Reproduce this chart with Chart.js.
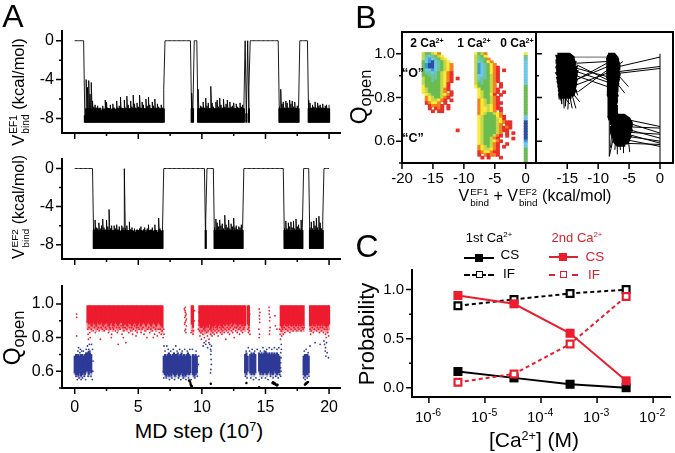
<!DOCTYPE html>
<html>
<head>
<meta charset="utf-8">
<title>Ca binding panels</title>
<script src="https://cdn.jsdelivr.net/npm/chart.js@4"></script>
<style>
html, body { margin: 0; padding: 0; background: #fff; }
body { position: relative; width: 675px; height: 453px; overflow: hidden; font-family: "Liberation Sans", Arial, sans-serif; color: #000; }
canvas { position: absolute; }
.t { position: absolute; white-space: nowrap; transform: translate(-50%, -50%); line-height: 1; z-index: 2; }
.r { transform: translate(-50%, -50%) rotate(-90deg); }
.b { font-weight: bold; }
.red { color: #d9232e; }
sup.s { font-size: .6em; vertical-align: .55em; line-height: 0; }
sub.s { font-size: .72em; vertical-align: -.25em; line-height: 0; }
.v { display: inline-block; }
.ss { display: inline-block; vertical-align: middle; font-size: .62em; line-height: 1.15; text-align: left; margin-left: 1px; }
.ss span { display: block; }
.key { position: absolute; height: 0; }
.sq { position: absolute; box-sizing: border-box; }
</style>
</head>
<body>
<div class="t" style="left:13px;top:16px;font-size:32px">A</div>
<div class="t" style="left:366px;top:17px;font-size:32px">B</div>
<div class="t" style="left:367px;top:246px;font-size:32px">C</div>

<div class="t r" style="left:20px;top:92px;font-size:16.5px"><span class="v">V<span class="ss"><span>EF1</span><span>bind</span></span></span> (kcal/mol)</div>
<div class="t r" style="left:20px;top:207px;font-size:16px"><span class="v">V<span class="ss"><span>EF2</span><span>bind</span></span></span> (kcal/mol)</div>
<div class="t r" style="left:12px;top:338px;font-size:23px">Q<sub class="s">open</sub></div>
<div class="t" style="left:199px;top:430px;font-size:21px">MD step (10<sup class="s">7</sup>)</div>

<div class="t r" style="left:359px;top:97px;font-size:23px">Q<sub class="s">open</sub></div>
<div class="t" style="left:535px;top:197px;font-size:16px"><span class="v">V<span class="ss"><span>EF1</span><span>bind</span></span></span> + <span class="v">V<span class="ss"><span>EF2</span><span>bind</span></span></span> (kcal/mol)</div>

<div class="t r" style="left:367px;top:334px;font-size:22px">Probability</div>
<div class="t" style="left:534px;top:439px;font-size:21px">[Ca<sup class="s">2+</sup>] (M)</div>

<div class="t" style="left:489px;top:237px;font-size:13px">1st Ca<sup class="s">2+</sup></div>
<div class="t red" style="left:577px;top:237px;font-size:13px">2nd Ca<sup class="s">2+</sup></div>
<div class="t" style="left:510px;top:255px;font-size:13.5px">CS</div>
<div class="t" style="left:509px;top:274px;font-size:13.5px">IF</div>
<div class="t red" style="left:595px;top:257px;font-size:13.5px">CS</div>
<div class="t red" style="left:594px;top:275px;font-size:13.5px">IF</div>
<div class="key" style="left:464px;top:257px;width:30px;border-top:2px solid #000"></div>
<div class="sq" style="left:475px;top:254px;width:8px;height:8px;background:#000"></div>
<div class="key" style="left:464px;top:274px;width:30px;border-top:2px dashed #000"></div>
<div class="sq" style="left:476px;top:271px;width:7px;height:7px;background:#fff;border:1.5px solid #000"></div>
<div class="key" style="left:549px;top:256px;width:29px;border-top:2px solid #d9232e"></div>
<div class="sq" style="left:559px;top:253px;width:8px;height:8px;background:#ed1c2e"></div>
<div class="key" style="left:549px;top:274px;width:29px;border-top:2px dashed #d9232e"></div>
<div class="sq" style="left:560px;top:271px;width:7px;height:7px;background:#fff;border:1.5px solid #d9232e"></div>

<div class="t b" style="left:427px;top:43px;font-size:12px">2 Ca<sup class="s">2+</sup></div>
<div class="t b" style="left:474px;top:43px;font-size:12px">1 Ca<sup class="s">2+</sup></div>
<div class="t b" style="left:517px;top:43px;font-size:12px">0 Ca<sup class="s">2+</sup></div>
<div class="t b" style="left:413px;top:73px;font-size:12.5px">“O”</div>
<div class="t b" style="left:413px;top:138px;font-size:12.5px">“C”</div>

<script>
// Panel A, traces: top of the noise per step of 0.1 (x 10^7), 0 = unbound
const ef1Tops = [
    0,0,0,0,0,0,0,0,-7.7,-4.0,
    -4.8,-4.1,-5.5,-4.3,-6.2,-6.8,-6.6,-6.9,-6.7,-7.0,
    -6.9,-7.2,-6.7,-7.1,-6.1,-6.3,-6.9,-7.0,-6.6,-7.1,
    -6.5,-6.9,-7.1,-6.2,-6.9,-6.7,-5.8,-6.9,-7.0,-6.1,
    -6.9,-5.7,-6.6,-7.0,-6.2,-6.8,-5.6,-6.5,-6.9,-6.4,
    -6.8,-5.6,-6.9,-6.3,-6.6,-7.0,-6.0,-6.7,-5.8,-6.6,
    -7.0,-6.3,-6.7,-6.0,-6.9,-6.5,-6.8,-7.0,-6.6,-6.9,
    -5.0,0,0,0,0,0,0,0,0,0,
    0,0,0,0,0,0,0,0,0,0,
    0,0,-5.4,-6.6,0,0,0,-5.0,-7.0,-6.7,
    -6.8,-6.3,-6.9,-5.9,-6.7,-6.4,-7.0,-4.7,-6.4,-6.8,
    -7.0,-6.3,-6.1,-6.8,-5.9,-6.6,-6.9,-6.0,-6.8,-6.5,
    -6.1,-6.9,-6.3,-6.8,-6.7,-6.4,-7.0,-6.5,-6.8,-6.9,
    -6.4,-6.8,-6.6,-7.0,0,-7.5,0,-4.8,0,0,
    0,0,0,0,0,0,0,0,0,0,
    0,0,0,0,0,0,0,0,0,0,
    0,-6.8,-5.0,-6.5,-6.3,-6.9,-6.2,-6.4,-6.9,-6.1,
    -6.5,-6.2,-6.8,-6.3,-6.9,-6.7,-7.0,0,0,0,
    0,0,0,0,-6.1,-6.4,-6.9,-6.6,-6.8,-6.3,
    -6.9,-6.4,-6.7,-6.6,-6.9,-6.5,-6.9,-6.7,-6.6,-7.0,
    -6.6
];
const ef2Tops = [
    0,0,0,0,0,0,0,0,0,0,
    0,0,0,0,0,-6.3,-5.4,-6.2,-6.3,-5.7,
    -6.3,-6.0,-5.3,-6.2,-6.4,-5.4,-6.1,-4.3,-6.3,-6.0,
    -6.5,-6.0,-6.3,-5.9,-6.4,-6.1,-6.6,-6.0,-6.2,-0.01,
    -6.3,-6.0,-6.5,-5.6,-6.4,-6.2,-6.6,-6.3,-6.7,-6.4,
    -6.5,-6.3,-6.1,-6.6,-6.4,-6.2,-6.7,-6.3,-5.9,-6.5,
    -6.4,-6.2,-6.6,-5.9,-6.5,-6.7,-5.2,-6.3,-6.6,-6.5,
    0,0,0,0,0,0,0,0,0,0,
    0,0,0,0,0,0,0,0,0,0,
    0,0,0,0,0,0,0,0,0,0,
    0,0,0,-5.5,0,0,0,0,0,0,
    -6.2,-5.3,-5.7,-6.1,-5.4,-6.0,-5.8,-6.3,-4.9,-5.9,
    -6.2,-5.4,-6.3,-5.8,-6.1,-5.2,-6.2,-6.0,-6.4,-6.1,
    -6.2,-5.9,-6.3,0,0,0,0,0,0,0,
    0,0,0,0,0,0,0,0,0,0,
    0,0,0,0,0,0,0,0,0,0,
    0,0,0,0,0,-6.3,-5.5,-6.3,-5.7,-6.1,
    -5.6,-6.2,-5.5,-6.3,-5.3,-6.1,-5.9,-6.3,-5.4,-6.2,
    0,0,0,0,0,-6.2,-5.6,-6.3,-5.5,-6.0,
    -5.2,-6.2,-5.0,-5.7,-6.3,-5.5,0,0,0,0,
    0
];
const traceFloor = -8.4;
const ef1Core = -7.0;
const ef2Core = -6.5;
const stepX = 0.1;

// Panel A, Qopen: lower and upper edge of the dense bands per step of 0.1
const n = null;
const redLow = [
    n,n,n,n,n,n,n,n,n,n,
    .89,.88,.89,.87,.88,.89,.88,.87,.89,.88,
    .88,.89,.87,.88,.88,.89,.88,.87,.88,.89,
    .87,.88,.89,.88,.87,.88,.89,.89,.87,.88,
    .88,.87,.89,.88,.88,.87,.88,.89,.88,.87,
    .88,.89,.87,.88,.89,.88,.87,.88,.89,.88,
    .87,.88,.89,.88,.87,.88,.89,.88,.87,.86,
    n,n,n,n,n,n,n,n,n,n,
    n,n,n,n,n,n,n,n,n,n,
    n,n,.88,.86,n,n,n,n,.87,.86,
    .86,.87,.85,.86,.87,.86,.88,.85,.87,.86,
    .87,.88,.86,.87,.88,.87,.86,.88,.87,.88,
    .88,.87,.88,.89,.87,.88,.89,.88,.87,.88,
    .88,.88,.87,.88,.87,n,.88,.87,n,n,
    n,n,n,n,n,n,n,n,n,n,
    n,n,n,n,n,n,n,n,n,n,
    n,n,.87,.86,.87,.88,.87,.88,.87,.88,
    .87,.88,.87,.88,.87,.88,.87,.88,.87,.88,
    .87,n,n,n,n,.87,.87,.88,.87,.88,
    .88,.87,.88,.87,.88,.87,.88,.87,.86,.87,
    .88
];
const redHigh = .99;
const blueLow = [
    .59,.58,.58,.57,.59,.57,.58,.59,.58,.60,
    .60,.58,.60,.59,n,n,n,n,n,n,
    n,n,n,n,n,n,n,n,n,n,
    n,n,n,n,n,n,n,n,n,n,
    n,n,n,n,n,n,n,n,n,n,
    n,n,n,n,n,n,n,n,n,n,
    n,n,n,n,n,n,n,n,n,n,
    .59,.58,.57,.58,.57,.58,.57,.59,.58,.57,
    .58,.59,.57,.58,.59,.57,.58,.57,.58,.59,
    .58,.59,n,.58,.57,.58,.59,n,n,n,
    n,n,n,n,n,n,n,n,n,n,
    n,n,n,n,n,n,n,n,n,n,
    n,n,n,n,n,n,n,n,n,n,
    n,n,n,n,.59,.58,.60,n,.59,.58,
    .59,.58,.59,n,n,.60,.58,.59,.58,.59,
    .59,.58,.59,.60,.58,.59,.58,.60,.59,.58,
    .59,.59,n,n,n,n,n,n,n,n,
    n,n,n,n,n,n,n,n,n,n,
    .58,.57,.58,.58,.59,n,n,n,n,n,
    n,n,n,n,n,n,n,n,n,n,
    n
];
const blueHigh = [
    .69,.70,.70,.70,.69,.70,.70,.69,.70,.71,
    .71,.72,.71,.70,n,n,n,n,n,n,
    n,n,n,n,n,n,n,n,n,n,
    n,n,n,n,n,n,n,n,n,n,
    n,n,n,n,n,n,n,n,n,n,
    n,n,n,n,n,n,n,n,n,n,
    n,n,n,n,n,n,n,n,n,n,
    .69,.70,.69,.70,.71,.70,.69,.70,.71,.70,
    .70,.71,.69,.70,.71,.69,.70,.69,.70,.71,
    .70,.69,n,.70,.69,.70,.69,n,n,n,
    n,n,n,n,n,n,n,n,n,n,
    n,n,n,n,n,n,n,n,n,n,
    n,n,n,n,n,n,n,n,n,n,
    n,n,n,n,.70,.71,.69,n,.70,.71,
    .70,.71,.70,n,n,.71,.70,.71,.70,.71,
    .72,.71,.70,.71,.70,.71,.70,.71,.70,.71,
    .70,.69,n,n,n,n,n,n,n,n,
    n,n,n,n,n,n,n,n,n,n,
    .69,.70,.70,.70,.69,n,n,n,n,n,
    n,n,n,n,n,n,n,n,n,n,
    n
];
const redStray = [
    [.15,.94],[.15,.92],[.15,.81],[1.02,.85],[1.05,.82],[1.08,.79],[1.12,.86],[1.18,.83],[1.22,.8],[1.3,.85],[1.38,.87],[1.45,.84],
    [1.55,.86],[1.62,.83],[1.7,.87],[1.78,.85],[1.85,.86],[1.92,.84],[2.02,.79],[2.08,.86],[2.15,.85],[2.25,.87],[2.33,.84],[2.42,.86],
    [2.5,.85],[2.58,.87],[2.66,.83],[2.75,.86],[2.82,.85],[2.9,.82],[2.98,.86],[3.05,.85],[3.12,.87],[3.2,.84],[3.28,.86],[3.35,.83],
    [3.42,.76],[3.5,.86],[3.58,.85],[3.65,.87],[3.72,.82],[3.8,.86],[3.88,.84],[3.95,.86],[4.02,.77],[4.1,.85],[4.18,.87],[4.25,.83],
    [4.32,.86],[4.4,.84],[4.48,.86],[4.55,.82],[4.62,.85],[4.7,.87],[4.78,.84],[4.85,.86],[4.92,.83],[5.0,.86],[5.08,.85],[5.15,.87],
    [5.22,.83],[5.3,.85],[5.38,.86],[5.45,.82],[5.52,.84],[5.6,.87],[5.68,.8],[5.75,.85],[5.82,.86],[5.9,.83],[5.98,.85],[6.05,.87],
    [6.12,.84],[6.2,.86],[6.28,.82],[6.35,.85],[6.42,.87],[6.5,.81],[6.58,.85],[6.65,.83],[6.72,.85],[6.8,.82],[6.88,.84],[6.95,.8],
    [7.0,.85],[7.02,.82],[4.82,.81],[3.82,.8],[2.88,.8],[6.18,.8],
    [8.62,.97],[8.65,.92],[8.68,.89],[8.7,.95],[8.72,.85],[8.74,.9],[8.76,.94],[8.78,.87],[8.66,.84],[8.72,.93],[8.7,.98],[8.64,.88],
    [8.75,.83],[8.68,.96],[8.78,.91],[9.15,.83],[9.22,.84],[9.3,.82],[9.36,.84],[9.42,.96],[9.4,.9],[9.72,.85],[9.75,.9],[9.78,.95],
    [9.82,.84],[9.85,.81],[9.9,.83],[9.96,.79],[10.02,.84],[10.08,.82],[10.14,.85],[10.2,.8],[10.26,.84],[10.32,.78],[10.38,.83],[10.44,.81],
    [10.5,.84],[10.56,.79],[10.62,.85],[10.68,.82],[10.74,.84],[10.8,.81],[10.86,.83],[10.92,.85],[10.98,.82],[11.04,.84],[11.1,.86],[11.16,.83],
    [11.22,.85],[11.28,.81],[11.34,.84],[11.4,.86],[11.46,.83],[11.52,.85],[11.58,.82],[11.64,.84],[11.7,.86],[11.76,.83],[11.82,.85],[11.88,.79],
    [11.94,.84],[12.0,.86],[12.06,.83],[12.12,.85],[12.18,.82],[12.24,.86],[12.3,.84],[12.36,.87],[12.42,.83],[12.48,.85],[12.54,.8],[12.6,.86],
    [12.66,.84],[12.72,.86],[12.78,.83],[12.84,.87],[12.9,.85],[12.96,.82],[13.02,.86],[13.08,.84],[13.14,.87],[13.2,.83],[13.26,.85],[13.32,.86],
    [13.62,.85],[13.66,.83],[13.7,.86],[13.74,.84],[13.72,.9],[13.76,.94],[13.66,.97],[13.78,.82],
    [14.5,.97],[14.52,.93],[14.55,.89],[14.48,.85],[14.53,.82],[14.56,.95],[14.5,.8],[14.54,.91],
    [15.28,.98],[15.3,.94],[15.33,.9],[15.36,.86],[15.32,.82],[15.3,.96],[15.35,.92],[15.33,.84],[15.75,.93],[15.78,.87],[15.9,.85],
    [16.12,.85],[16.15,.82],[16.18,.79],[16.22,.84],[16.28,.81],[16.34,.85],[16.4,.82],[16.46,.86],[16.52,.83],[16.6,.85],[16.68,.87],[16.76,.84],
    [16.84,.86],[16.92,.83],[17.0,.85],[17.08,.87],[17.16,.84],[17.24,.86],[17.32,.85],[17.4,.87],[17.48,.84],[17.56,.86],[17.64,.85],[17.72,.87],
    [17.8,.84],[17.88,.86],[17.96,.85],[18.04,.86],[18.5,.85],[18.55,.82],[18.6,.84],[18.68,.86],[18.76,.83],[18.84,.85],[18.92,.87],[19.0,.84],
    [19.08,.86],[19.16,.85],[19.24,.83],[19.32,.86],[19.4,.84],[19.48,.86],[19.56,.83],[19.64,.85],[19.72,.82],[19.78,.8],[19.84,.85],[19.9,.83],[19.96,.81]
];
const blueStray = [
    [.1,.57],[.2,.55],[.25,.72],[.3,.74],[.35,.56],[.4,.71],[.45,.73],[.5,.55],[.55,.72],[.62,.56],[.68,.72],[.75,.57],[.85,.55],[.9,.73],
    [1.0,.75],[1.05,.57],[1.1,.73],[1.15,.76],[1.2,.72],[1.28,.57],[1.32,.76],[1.38,.55],[1.4,.73],[1.42,.6],[1.44,.66],[.95,.63],
    [6.98,.6],[7.0,.56],[7.02,.75],[7.1,.72],[7.2,.56],[7.25,.75],[7.35,.73],[7.45,.55],[7.55,.72],[7.65,.56],[7.75,.73],[7.85,.55],[7.95,.75],
    [8.05,.72],[8.15,.56],[8.25,.73],[8.35,.55],[8.45,.72],[8.55,.56],[8.65,.73],[8.75,.55],[8.85,.72],[8.95,.56],[9.05,.73],[9.15,.55],[9.25,.73],
    [9.28,.62],[9.3,.68],[9.45,.56],[9.55,.72],[9.65,.57],[9.72,.64],[9.75,.69],
    [10.1,.75],[10.18,.77],[10.3,.76],[10.45,.74],[10.55,.77],[10.62,.76],[10.68,.73],[10.7,.7],[10.72,.67],[10.74,.64],[10.7,.61],[10.68,.59],[10.72,.72],[10.75,.75],
    [13.42,.57],[13.48,.72],[13.55,.56],[13.65,.74],[13.75,.72],[13.85,.56],[13.95,.73],[14.05,.55],[14.15,.72],[14.25,.56],[14.35,.73],[14.5,.55],[14.6,.72],
    [14.7,.56],[14.8,.74],[14.9,.72],[15.0,.56],[15.1,.73],[15.2,.55],[15.3,.74],[15.4,.57],[15.5,.73],[15.6,.56],[15.7,.74],[15.8,.57],[15.9,.73],[16.0,.56],
    [16.05,.74],[16.12,.58],[16.2,.62],[16.2,.65],[16.22,.68],[16.2,.71],[16.25,.73],[16.22,.6],[16.24,.76],[16.2,.57],
    [18.0,.56],[18.05,.72],[18.12,.55],[18.2,.73],[18.28,.56],[18.35,.71],[18.42,.57],
    [19.6,.78],[19.65,.76],[19.7,.72],[19.75,.69],[19.72,.74],[19.8,.77],[19.95,.68],[19.85,.71],[18.9,.77],[19.3,.76],[18.5,.75]
];
const blackStray = [
    [9.0,.545],[9.05,.54],[9.1,.53],[9.12,.52],[9.16,.515],[9.2,.51],[10.7,.525],[13.5,.53],[14.5,.505],
    [15.55,.53],[15.6,.535],[15.65,.525],[15.7,.53],[15.75,.525],[15.8,.52],[15.85,.52],[15.9,.515],[15.95,.52],
    [18.1,.52],[18.15,.525],[18.2,.525],[18.25,.53],[18.3,.535],[18.35,.535]
];

// Panel B, histogram: one string per row (y from 1.0 down by 0.0125), one digit per 0.5 kcal/mol from -17
const heatRows = [
    ".455432...........3542",
    ".4676543..........4653",
    ".47876543.........46652",
    ".578976543........476532",
    ".5899765432.......4876532",
    ".5899765432.......48765321",
    ".5778765432.......48765321.1",
    ".5667654321.......48765321",
    ".5566654321.......47765421",
    ".4556654321.1.....47665421",
    ".4556554321.......46655421",
    ".455555431........4565542.1",
    ".355555431........3555542.1",
    ".345555421.........3555421",
    ".34555542.1........3455421.1",
    "..345554321........345531.1",
    "..23455421.........3455421",
    "..2344321.1........2345421",
    "..12332.1..........23454211",
    "...12221.1.........2344321",
    "...1.121.1.........23343211",
    "....1.11...........233432.1",
    "...................23455432",
    "...................345555321",
    "...................345555431",
    "...................34555543211",
    "...................34555542.11",
    "...................34555542121",
    "............1......3455554211",
    "...................34555542.1.1",
    "...................34555421.1",
    "...................3455421....1",
    "...................34554321",
    "...................3455421..1",
    "...................2345421.1",
    "...................2344321",
    "...................1233211",
    "...................1.21221",
    "....................1.1...1",
    "",
    ""
];
const freeColumn = "36677777777755555555555779999999877555555";
const freeColumnX = 0;
const heatStartX = -17;
const heatStepX = 0.5;
const heatStepY = 0.0125;
const heatColors = ['', '#e8302a', '#f58020', '#ffe838', '#c4d84a', '#6cbc4f', '#6cc4a0', '#6cc8e4', '#3a9cd8', '#2c4fa0'];

// Panel B, trajectories
const trajCloudA = [
    [-16.6,1],[-14.6,1],[-14.2,.99],[-16.7,.99],[-16.6,.98],[-14,.98],[-13.9,.97],[-16.7,.97],[-16.7,.96],[-13.7,.96],
    [-13.8,.95],[-16.6,.95],[-16.7,.94],[-13.5,.94],[-13.6,.93],[-16.6,.93],[-16.6,.92],[-13.4,.92],[-13.5,.91],[-16.7,.91],
    [-16.5,.9],[-13.5,.9],[-13.6,.89],[-16.6,.89],[-16.5,.88],[-13.5,.88],[-13.6,.87],[-16.5,.87],[-16.4,.86],[-13.6,.86],
    [-13.7,.85],[-16.4,.85],[-16.3,.84],[-13.8,.84],[-13.6,.83],[-16.3,.83],[-16.2,.82],[-13.9,.82],[-14,.81],[-16.2,.81],[-16.1,.8],[-14.3,.8]
];
const trajCloudB = [
    [-8.4,1],[-7.4,1],[-7.1,.99],[-8.4,.99],[-8.5,.98],[-6.9,.98],[-6.8,.97],[-8.5,.97],[-8.5,.96],[-6.7,.96],[-6.6,.95],[-8.5,.95],
    [-8.5,.94],[-6.6,.94],[-6.6,.93],[-8.5,.93],[-8.5,.92],[-6.7,.92],[-6.6,.91],[-8.5,.91],[-8.5,.9],[-6.6,.9],[-6.7,.89],[-8.5,.89],
    [-8.4,.88],[-6.7,.88],[-6.8,.87],[-8.4,.87],[-8.4,.86],[-6.8,.86],[-6.9,.85],[-8.4,.85],[-8.4,.84],[-6.9,.84],[-6.9,.83],[-8.4,.83],
    [-8.4,.82],[-7,.82],[-6.9,.81],[-8.4,.81],[-8.3,.8],[-7,.8],[-7,.79],[-8.3,.79],[-8.3,.78],[-7,.78],[-7.1,.77],[-8.3,.77],
    [-8.3,.76],[-7,.76],[-7,.75],[-8.3,.75],[-8.3,.74],[-7,.74],[-7,.73],[-8.3,.73],[-8.3,.72],[-7,.72],[-7.2,.71],[-8.3,.71],[-8.2,.7],[-7.4,.7]
];
const trajCloudC = [
    [-7.3,.72],[-5.8,.72],[-5.3,.71],[-7.6,.71],[-7.8,.7],[-4.9,.7],[-4.7,.69],[-7.9,.69],[-7.9,.68],[-4.6,.68],[-4.6,.67],[-7.8,.67],
    [-7.9,.66],[-4.7,.66],[-4.6,.65],[-7.8,.65],[-7.7,.64],[-4.8,.64],[-4.9,.63],[-7.7,.63],[-7.6,.62],[-4.8,.62],[-5,.61],[-7.5,.61],
    [-7.4,.6],[-5.1,.6],[-5.3,.59],[-7.2,.59],[-6.9,.58],[-5.6,.58]
];
const trajLinks = [
    [-16.4,.82,-16.3,.79],[-16,.8,-15.9,.77],[-15.6,.8,-15.5,.75],[-15.2,.8,-15.3,.76],[-14.8,.8,-14.9,.745],[-14.6,.81,-14.2,.75],
    [-14.3,.82,-13.6,.75],[-14.4,.83,-13,.78],[-14,.86,-13.3,.81],[-15.4,.8,-14.6,.77],
    [-13.5,.957,-8.36,.965],[-13.5,.95,-8.5,.881],[-13.5,.934,-8.6,.896],[-13.5,.881,-8.6,.957],[-13.5,.858,-8.6,.911],[-13.2,.827,-8.5,.926],
    [-13.6,.92,-8.4,.87],[-13.6,.9,-8.5,.85],[-13.7,.88,-8.6,.94],
    [-6.6,.942,0,.985],[-6.6,.919,0,.942],[-6.6,.911,0,.933],[-6.7,.9,-5.1,.85],[-6.8,.86,-5.7,.82],[-6.7,.95,-6,.965],
    [-5,.697,0,.667],[-4.8,.68,0,.637],[-4.6,.665,0,.66],[-4.7,.65,0,.614],[-4.8,.64,0,.632],[-5,.63,0,.591],[-4.8,.62,0,.6],[-5.2,.605,0,.576],[-5.5,.59,0,.585],
    [-8.2,.53,-7.5,.62],[-8.2,.53,-8.2,.7],[-8,.57,-7.8,.64],[-6.9,.54,-6.9,.6],[-5.9,.545,-5.9,.6],[-4.9,.55,-5.1,.6],[-7.3,.56,-7.2,.6],[-6.4,.56,-6.5,.6]
];
const trajHold = [[-13.9,.985],[-8.2,.985]];
const trajZero = [[0,1],[0,.5]];

// Panel C
const caValues = [3.3e-6, 3.3e-5, 3.3e-4, 3.3e-3];
const firstCS = [0.165, 0.10, 0.035, 0.0];
const firstIF = [0.835, 0.90, 0.96, 1.0];
const secondCS = [0.94, 0.855, 0.555, 0.07];
const secondIF = [0.055, 0.14, 0.445, 0.93];

// Tick positions and labels
const stepTicks = [0, 2.5, 5, 7.5, 10, 12.5, 15, 17.5, 20];
const stepMajor = [0, 5, 10, 15, 20];
const stepLabels = ['0', '5', '10', '15', '20'];
const bindTicks = [-8, -6, -4, -2, 0];
const bindMajor = [-8, -4, 0];
const bindLabels = ['-8', '-4', '0'];
const qTicks = [0.5, 0.6, 0.7, 0.8, 0.9, 1.0];
const qMajor = [0.6, 0.8, 1.0];
const qLabels = ['0.6', '0.8', '1.0'];
const sumTicks = [-20, -15, -10, -5, 0];
const sumLabels = ['-20', '-15', '-10', '-5', '0'];
const sumTicksRight = [-15, -10, -5, 0];
const sumLabelsRight = ['-15', '-10', '-5', '0'];
const probTicks = [0, 0.25, 0.5, 0.75, 1.0];
const probMajor = [0, 0.5, 1.0];
const probLabels = ['0.0', '0.5', '1.0'];
const caTicks = [1e-6, 1e-5, 1e-4, 1e-3, 1e-2];
const caExponents = ['-6', '-5', '-4', '-3', '-2'];

const FONT = '"Liberation Sans", Arial, sans-serif';
const RED = '#ed1c2e';
const BLUE = '#2e3a96';

// Ticks of two lengths, power labels and the optional box round a panel
const axisMarks = {
    id: 'axisMarks',
    afterDraw(chart, args, opts) {
        const ctx = chart.ctx;
        const area = chart.chartArea;
        ctx.save();
        ctx.strokeStyle = '#000';
        ctx.lineWidth = 1.5;
        ctx.beginPath();
        const xs = chart.scales.x;
        xs.ticks.forEach(t => {
            const p = xs.getPixelForValue(t.value);
            const len = opts.xMajor.includes(t.value) ? 6 : 3;
            ctx.moveTo(p, area.bottom);
            ctx.lineTo(p, area.bottom + len);
        });
        const ys = chart.scales.y;
        const dir = opts.yInside ? 1 : -1;
        ys.ticks.forEach(t => {
            const p = ys.getPixelForValue(t.value);
            const len = opts.yMajor.includes(t.value) ? 6 : 3;
            ctx.moveTo(area.left, p);
            ctx.lineTo(area.left + dir * len, p);
        });
        ctx.stroke();
        if (opts.frame) {
            ctx.lineWidth = 2;
            ctx.strokeRect(area.left, area.top, area.right - area.left, area.bottom - area.top);
        }
        if (opts.powers) {
            ctx.fillStyle = '#000';
            ctx.textBaseline = 'alphabetic';
            ctx.textAlign = 'left';
            xs.ticks.forEach((t, i) => {
                const p = xs.getPixelForValue(t.value);
                ctx.font = '15px ' + FONT;
                ctx.fillText('10', p - 14, area.bottom + 25);
                ctx.font = '10.5px ' + FONT;
                ctx.fillText(opts.powers[i], p + 3, area.bottom + 19);
            });
        }
        ctx.restore();
    }
};
Chart.register(axisMarks);

function axis(cfg) {
    const major = cfg.major || cfg.ticks;
    return {
        type: cfg.type || 'linear',
        min: cfg.min,
        max: cfg.max,
        offset: false,
        border: { display: true, width: 2, color: '#000' },
        grid: { display: false, drawTicks: false },
        afterBuildTicks(scale) {
            scale.ticks = cfg.ticks.map(v => ({ value: v }));
        },
        afterFit(scale) {
            if (scale.isHorizontal()) scale.height = cfg.fit;
            else scale.width = cfg.fit;
            // labels may hang over the plot edges, the plot area stays put
            scale.paddingTop = scale.paddingBottom = scale.paddingLeft = scale.paddingRight = 0;
        },
        ticks: {
            autoSkip: false,
            maxRotation: 0,
            minRotation: 0,
            padding: cfg.padding,
            color: '#000',
            font: { family: FONT, size: cfg.size || 15 },
            callback(v) {
                const i = major.indexOf(v);
                return cfg.labels && i >= 0 ? cfg.labels[i] : '';
            }
        }
    };
}

// Canvas placed so that the plot area lands on the given page rectangle
function panel(rect, margin, type, datasets, xAxis, yAxis, marks) {
    const canvas = document.createElement('canvas');
    canvas.width = rect.r - rect.l + margin.l + margin.r;
    canvas.height = rect.b - rect.t + margin.t + margin.b;
    canvas.style.left = (rect.l - margin.l) + 'px';
    canvas.style.top = (rect.t - margin.t) + 'px';
    document.body.appendChild(canvas);
    xAxis.fit = margin.b;
    yAxis.fit = margin.l;
    return new Chart(canvas.getContext('2d'), {
        type: type,
        data: { datasets: datasets },
        options: {
            responsive: false,
            animation: false,
            events: [],
            layout: { autoPadding: false, padding: { top: margin.t, right: margin.r, left: 0, bottom: 0 } },
            plugins: { legend: { display: false }, tooltip: { enabled: false }, axisMarks: marks },
            scales: { x: axis(xAxis), y: axis(yAxis) }
        }
    });
}

function tracePoints(tops) {
    const pts = [];
    tops.forEach((top, i) => {
        const x = i * stepX;
        if (top !== 0) pts.push({ x: x, y: traceFloor });
        pts.push({ x: x, y: top });
    });
    return pts;
}

function traceDataset(tops) {
    return { type: 'scatter', data: tracePoints(tops), showLine: true, borderColor: '#000', borderWidth: 0.9, pointRadius: 0 };
}

// Solid part of a trace, from the floor up to the dense level
function traceCore(tops, core) {
    const cells = [];
    tops.forEach((top, i) => {
        if (top === 0) return;
        cells.push({ x: i * stepX, y: [traceFloor, Math.min(top, core)] });
    });
    return { type: 'bar', data: cells, backgroundColor: '#000', barThickness: 1.5, grouped: false };
}

function bandBars(lows, highs, color) {
    const cells = [];
    lows.forEach((low, i) => {
        if (low === null) return;
        cells.push({ x: i * stepX, y: [low, Array.isArray(highs) ? highs[i] : highs] });
    });
    return { type: 'bar', data: cells, backgroundColor: color, barThickness: 1.5, grouped: false };
}

// Thinned out edge under a dense band
function bandFade(lows, depth, color) {
    const cells = [];
    lows.forEach((low, i) => {
        if (low === null) return;
        cells.push({ x: i * stepX, y: [low - depth, low] });
    });
    return { type: 'bar', data: cells, backgroundColor: color, barThickness: 1.5, grouped: false };
}

function dots(pairs, color, r) {
    return {
        type: 'scatter',
        data: pairs.map(p => ({ x: p[0], y: p[1] })),
        backgroundColor: color,
        borderWidth: 0,
        pointRadius: r
    };
}

function heatCells() {
    const cells = [];
    const addCell = (x, y, level) => cells.push({
        x: x,
        y: [y - heatStepY / 2 - 0.001, y + heatStepY / 2],
        level: level
    });
    heatRows.forEach((row, r) => {
        const y = 1 - r * heatStepY;
        for (let c = 0; c < row.length; c++) {
            if (row[c] !== '.') addCell(heatStartX + c * heatStepX, y, Number(row[c]));
        }
        addCell(freeColumnX, y, Number(freeColumn[r]));
    });
    return cells;
}

function trajLine(pairs, width, color) {
    return {
        data: pairs.map(p => ({ x: p[0], y: p[1] })),
        showLine: true,
        borderColor: color,
        borderWidth: width,
        pointRadius: 0
    };
}

function linkSegments() {
    const pts = [];
    trajLinks.forEach(s => {
        pts.push([s[0], s[1]], [s[2], s[3]], [s[2], NaN]);
    });
    return pts;
}

function caLine(values, color, dashed, filled) {
    return {
        data: caValues.map((x, i) => ({ x: x, y: values[i] })),
        showLine: true,
        borderColor: color,
        borderWidth: 2,
        borderDash: dashed ? [4, 3] : [],
        pointStyle: 'rect',
        pointRadius: filled ? 6.4 : 4.8,
        pointBackgroundColor: filled ? color : '#fff',
        pointBorderColor: color,
        pointBorderWidth: filled ? 0 : 2.2
    };
}

function init() {
    const marginA = { l: 40, r: 6, t: 6, b: 17 };

    panel({ l: 62, t: 31, r: 340, b: 133 }, marginA, 'bar', [traceDataset(ef1Tops), traceCore(ef1Tops, ef1Core)],
        { min: -1, max: 20.86, ticks: stepTicks, major: stepMajor },
        { min: -9.5, max: 1, ticks: bindTicks, major: bindMajor, labels: bindLabels, padding: 8, size: 16 },
        { xMajor: stepMajor, yMajor: bindMajor });

    panel({ l: 62, t: 159, r: 340, b: 259 }, marginA, 'bar', [traceDataset(ef2Tops), traceCore(ef2Tops, ef2Core)],
        { min: -1, max: 20.86, ticks: stepTicks, major: stepMajor },
        { min: -9.5, max: 1, ticks: bindTicks, major: bindMajor, labels: bindLabels, padding: 8, size: 16 },
        { xMajor: stepMajor, yMajor: bindMajor });

    panel({ l: 62, t: 286, r: 340, b: 388 }, { l: 40, r: 8, t: 4, b: 30 }, 'bar', [
        dots(blackStray, '#000', 1.2),
        dots(redStray, RED, 0.9),
        dots(blueStray, BLUE, 0.9),
        bandBars(redLow, redHigh, RED),
        bandBars(blueLow, blueHigh, BLUE),
        bandFade(redLow, 0.035, 'rgba(237,28,46,0.4)'),
        bandFade(blueLow, 0.012, 'rgba(46,58,150,0.35)')
    ],
        { min: -1, max: 20.86, ticks: stepTicks, major: stepMajor, labels: stepLabels, padding: 10, size: 16 },
        { min: 0.5, max: 1.107, ticks: qTicks, major: qMajor, labels: qLabels, padding: 8, size: 16 },
        { xMajor: stepMajor, yMajor: qMajor });

    panel({ l: 402, t: 32, r: 536, b: 163 }, { l: 32, r: 1, t: 2, b: 24 }, 'bar', [{
        data: heatCells(),
        backgroundColor: ctx => heatColors[ctx.raw.level],
        barThickness: 3.3,
        grouped: false
    }],
        { min: -20, max: 1.66, ticks: sumTicks, labels: sumLabels, padding: 7, size: 15 },
        { min: 0.5, max: 1.1, ticks: qTicks, major: qMajor, labels: qLabels, padding: 7, size: 15 },
        { xMajor: sumTicks, yMajor: qMajor, frame: true });

    panel({ l: 536, t: 32, r: 673, b: 163 }, { l: 1, r: 1, t: 2, b: 24 }, 'scatter', [
        trajLine(trajCloudA, 2.4, '#000'),
        trajLine(trajCloudB, 2.4, '#000'),
        trajLine(trajCloudC, 2.4, '#000'),
        trajLine(linkSegments(), 1, '#000'),
        trajLine(trajHold, 0.9, '#555'),
        trajLine(trajZero, 0.9, '#666')
    ],
        { min: -20.05, max: 2.1, ticks: sumTicksRight, labels: sumLabelsRight, padding: 7, size: 15 },
        { min: 0.5, max: 1.1, ticks: qTicks, major: qMajor },
        { xMajor: sumTicksRight, yMajor: qMajor, yInside: true, frame: true });

    panel({ l: 412, t: 270, r: 670, b: 397 }, { l: 40, r: 5, t: 2, b: 32 }, 'scatter', [
        caLine(secondCS, RED, false, true),
        caLine(secondIF, RED, true, false),
        caLine(firstIF, '#000', true, false),
        caLine(firstCS, '#000', false, true)
    ],
        { type: 'logarithmic', min: 5e-7, max: 2e-2, ticks: caTicks, padding: 9, size: 15 },
        { min: -0.095, max: 1.2, ticks: probTicks, major: probMajor, labels: probLabels, padding: 8, size: 15 },
        { xMajor: caTicks, yMajor: probMajor, powers: caExponents });
}

document.addEventListener('DOMContentLoaded', init);
</script>
</body>
</html>
